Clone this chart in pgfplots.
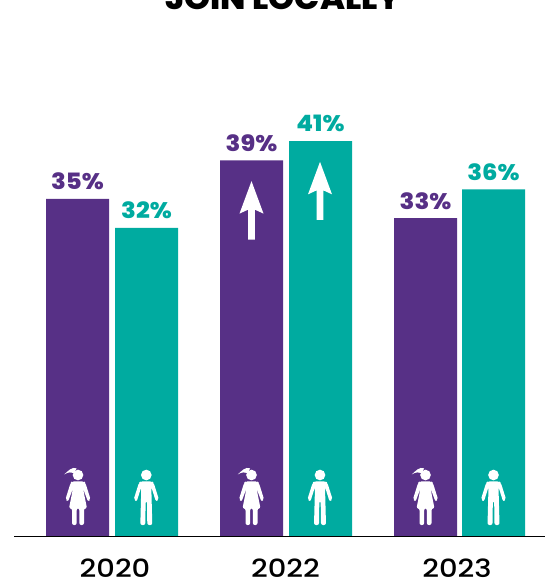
\documentclass[border=0pt]{standalone}
\usepackage{pgfplots}
\pgfplotsset{compat=1.18}
\usepackage{fontspec}
\setmainfont{Poppins}
\newfontfamily\yearfont[FakeStretch=1.16]{Poppins Medium}
\newfontfamily\labfont[FakeStretch=1.08]{Poppins ExtraBold}
\newfontfamily\titlefont[FakeStretch=1.07]{Poppins ExtraBold}
\definecolor{pur}{HTML}{573086}
\definecolor{teal2}{HTML}{00ABA0}
\newcommand{\woman}[1]{\begin{scope}[shift={(axis cs:#1,0)},yshift=11.5pt,scale=0.3333]
\fill[white] (0pt,150pt) circle[radius=16pt];
\fill[white] (-4pt,170pt) .. controls (-18pt,176pt) and (-30pt,162pt) .. (-41pt,152pt) .. controls (-28pt,160pt) and (-20pt,158pt) .. (-12pt,156pt) -- cycle;
\fill[white,rounded corners=2pt] (-18pt,131pt) -- (18pt,131pt) -- (22pt,127pt) -- (38pt,76pt) -- (30pt,70pt) -- (15pt,110pt) -- (27pt,50pt) -- (18pt,50pt) -- (18pt,0pt) -- (4pt,0pt) -- (4pt,50pt) -- (-4pt,50pt) -- (-4pt,0pt) -- (-18pt,0pt) -- (-18pt,50pt) -- (-27pt,50pt) -- (-15pt,110pt) -- (-30pt,70pt) -- (-38pt,76pt) -- (-22pt,127pt) -- cycle;
\end{scope}}
\newcommand{\man}[1]{\begin{scope}[shift={(axis cs:#1,0)},yshift=11.5pt,scale=0.3333]
\fill[white] (0pt,150pt) circle[radius=16pt];
\fill[white,rounded corners=2pt] (-17pt,131pt) -- (17pt,131pt) -- (22pt,127pt) -- (38pt,76pt) -- (29pt,70pt) -- (15pt,114pt) -- (18pt,0pt) -- (3pt,0pt) -- (2pt,72pt) -- (-2pt,72pt) -- (-3pt,0pt) -- (-18pt,0pt) -- (-15pt,114pt) -- (-29pt,70pt) -- (-38pt,76pt) -- (-22pt,127pt) -- cycle;
\end{scope}}
\newcommand{\uparrowshape}[3]{\begin{scope}[shift={(axis cs:#1,#2)}]
\fill[white] (0pt,0pt) -- (-12pt,-32.5pt) -- (-3.3pt,-28.5pt) -- (-3.3pt,-#3pt) -- (3.3pt,-#3pt) -- (3.3pt,-28.5pt) -- (12pt,-32.5pt) -- cycle;
\end{scope}}
\begin{document}
\begin{tikzpicture}[x=1pt,y=1pt]
\clip (0,0) rectangle (545,583);
\begin{axis}[at={(0,0)},anchor=south west,scale only axis,width=545pt,height=583pt,
 xmin=0,xmax=545,ymin=-4.82,ymax=55.63,axis lines=none,clip=false,
 ybar,bar width=63pt,bar shift=0pt,
 nodes near coords,point meta=explicit symbolic,
 every node near coord/.append style={font=\fontsize{22.5}{22.5}\selectfont\labfont,inner sep=0pt,yshift=9pt,anchor=south,text depth=0pt}]
\addplot[fill=pur,draw=none,text=pur] coordinates {(77.5,35)[35\%] (251.5,39)[39\%] (425.5,33)[33\%]};
\addplot[fill=teal2,draw=none,text=teal2] coordinates {(146.5,32)[32\%] (320.5,41)[41\%] (493.5,36)[36\%]};
\addplot[ybar=0pt,sharp plot,black,line width=1.1pt,nodes near coords={},forget plot] coordinates {(14,0)(545,0)};
\woman{78}\man{146.3}\woman{251.5}\man{320}\woman{425.5}\man{493.5}
\uparrowshape{251.5}{36.85}{58.5}
\uparrowshape{320}{38.85}{58}
\node[font=\fontsize{25}{25}\selectfont\yearfont,anchor=base,inner sep=0pt,text depth=0pt] at (axis cs:115,-4.3) {2020};
\node[font=\fontsize{25}{25}\selectfont\yearfont,anchor=base,inner sep=0pt,text depth=0pt] at (axis cs:285.5,-4.3) {2022};
\node[font=\fontsize{25}{25}\selectfont\yearfont,anchor=base,inner sep=0pt,text depth=0pt] at (axis cs:457,-4.3) {2023};
\node[font=\fontsize{31}{31}\selectfont\titlefont,anchor=base,inner sep=0pt] at (axis cs:283,54.6) {JOIN LOCALLY};
\end{axis}
\end{tikzpicture}
\end{document}
